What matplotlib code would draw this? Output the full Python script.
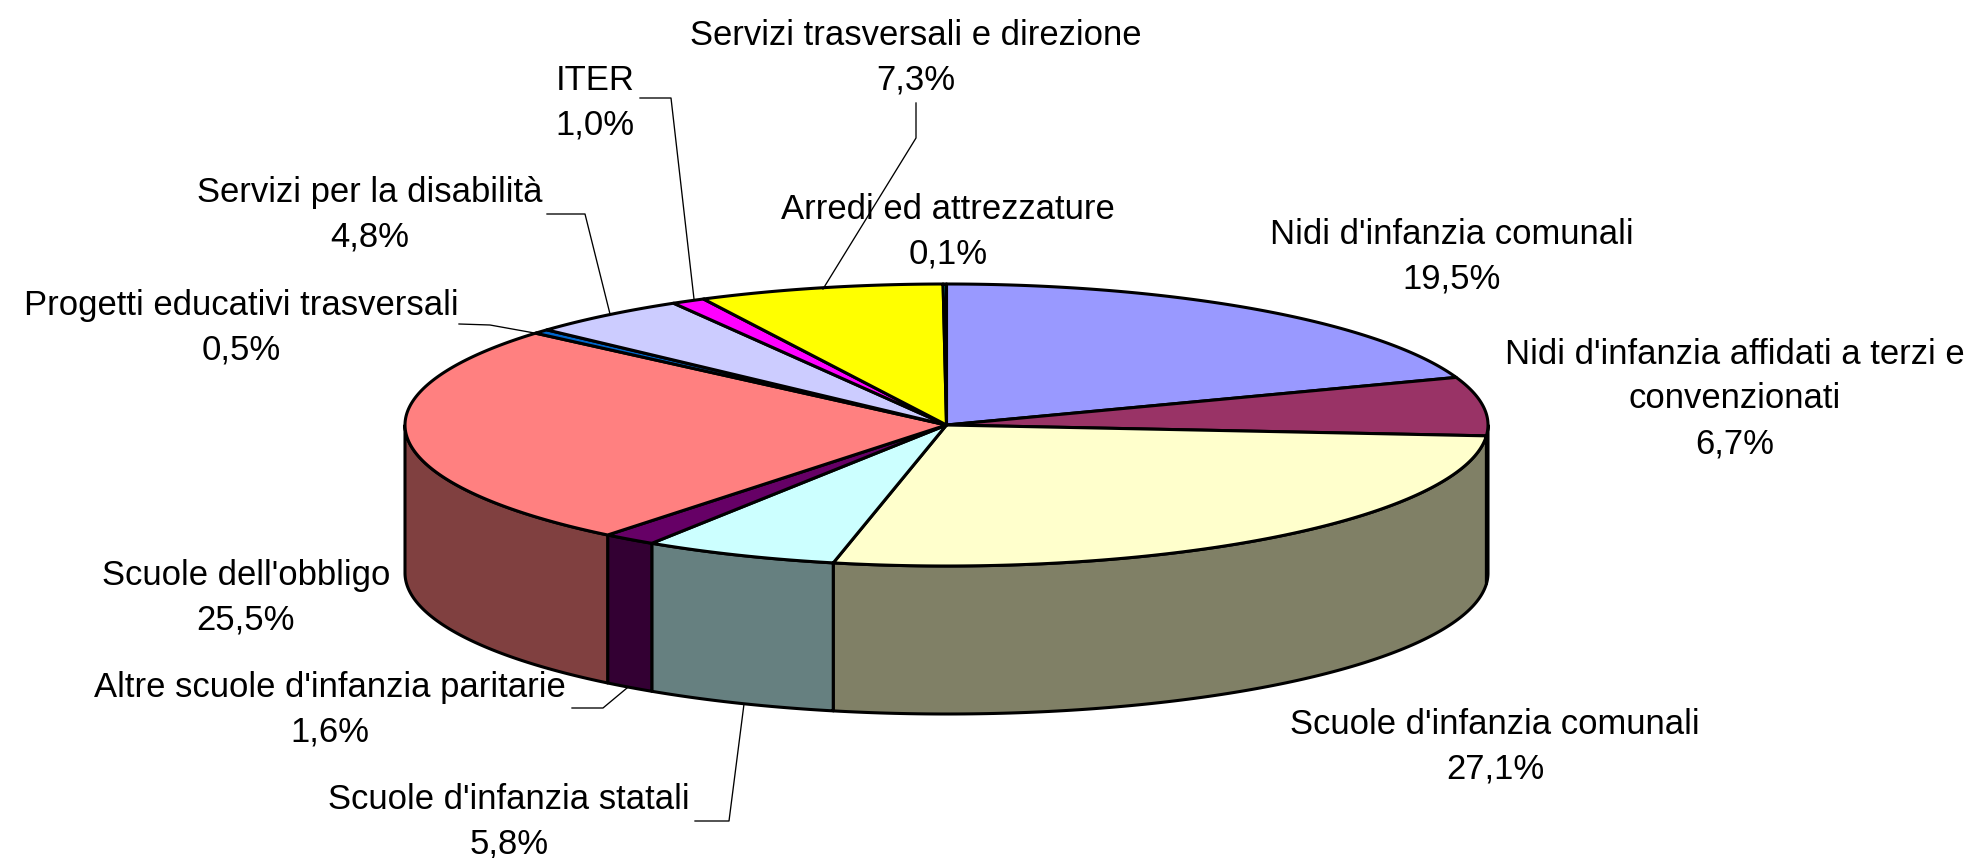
"""3D-look pie of spending shares, drawn on a pixel-sized axes."""

import matplotlib.pyplot as plt
import numpy as np

plt.rcParams["font.family"] = ["Liberation Sans", "DejaVu Sans"]

W, H = 1971, 858

labels = [
    "Nidi d'infanzia comunali",
    "Nidi d'infanzia affidati a terzi e\nconvenzionati",
    "Scuole d'infanzia comunali",
    "Scuole d'infanzia statali",
    "Altre scuole d'infanzia paritarie",
    "Scuole dell'obbligo",
    "Progetti educativi trasversali",
    "Servizi per la disabilità",
    "ITER",
    "Servizi trasversali e direzione",
    "Arredi ed attrezzature",
]
values = [19.5, 6.7, 27.1, 5.8, 1.6, 25.5, 0.5, 4.8, 1.0, 7.3, 0.1]
top_colors = [
    "#9999FF", "#993366", "#FFFFCC", "#CCFFFF", "#660066", "#FF8080",
    "#0066CC", "#CCCCFF", "#FF00FF", "#FFFF00", "#00FFFF",
]
side_colors = [
    "#4C4C80", "#4D1A33", "#808066", "#668080", "#330033", "#804040",
    "#003366", "#666680", "#800080", "#808000", "#008080",
]

# label centres, in full-size pixels
label_pos = [
    (1452, 257), (1735, 399), (1495, 747), (509, 822), (330, 710), (246, 598),
    (241, 328), (370, 215), (595, 103), (916, 58), (948, 232),
]

# leader lines, in full-size pixels
leaders = [
    [(640, 98), (671, 98), (694, 299)],
    [(916, 103), (916, 138), (823, 289)],
    [(547, 214), (585, 214), (610, 314)],
    [(459, 324), (490, 325), (540, 334)],
    [(572, 708), (603, 708), (627, 688)],
    [(695, 821), (729, 821), (744, 704)],
]

CX, CY = 946.5, 425
RX, RY = 541.5, 141
DEPTH = 148
EDGE = 2.2
LINE = 0.95


def ellipse(t):
    return CX + RX * np.sin(t), CY - RY * np.cos(t)


fig = plt.figure(figsize=(W / 100, H / 100), dpi=100, facecolor="white")
ax = fig.add_axes([0, 0, 1, 1])
ax.set_xlim(0, W)
ax.set_ylim(H, 0)
ax.axis("off")

shares = np.array(values) / sum(values) * 2 * np.pi
ends = np.cumsum(shares)
starts = ends - shares

# side wall, only the front half of the ellipse shows
for a, b, c in zip(starts, ends, side_colors):
    lo, hi = max(a, np.pi / 2), min(b, 3 * np.pi / 2)
    if lo >= hi:
        continue
    t = np.linspace(lo, hi, 120)
    x, y = ellipse(t)
    ax.fill(
        np.r_[x, x[::-1]], np.r_[y, y[::-1] + DEPTH],
        facecolor=c, edgecolor="black", linewidth=EDGE, joinstyle="round",
    )

# top face
for a, b, c in zip(starts, ends, top_colors):
    t = np.linspace(a, b, 120)
    x, y = ellipse(t)
    ax.fill(
        np.r_[CX, x], np.r_[CY, y],
        facecolor=c, edgecolor="black", linewidth=EDGE, joinstyle="round",
    )

for pts in leaders:
    xs, ys = zip(*pts)
    ax.plot(xs, ys, color="black", linewidth=LINE)

for name, val, (x, y) in zip(labels, values, label_pos):
    txt = f"{name}\n{val:.1f}%".replace(".", ",")
    ax.text(x, y, txt, ha="center", va="center", fontsize=24.9, color="black",
            linespacing=1.46, zorder=5)

fig.savefig("out.png", dpi=100)
